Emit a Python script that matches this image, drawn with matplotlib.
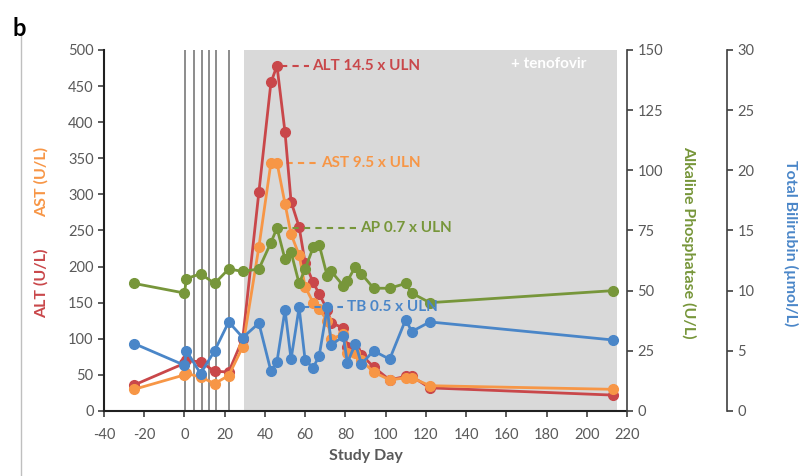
import numpy as np
import matplotlib
matplotlib.use("Agg")
import matplotlib.pyplot as plt

plt.rcParams['font.family'] = ['Lato', 'DejaVu Sans']
plt.rcParams['axes.unicode_minus'] = False

# study days of each visit
days = [-25, 0, 1, 8, 15, 22, 29, 37, 43, 46, 50, 53, 57, 60, 64, 67, 71, 73,
        79, 81, 85, 88, 94, 102, 110, 113, 122, 213]
alt = [36, 66, 70, 68, 55, 54, 100, 303, 455, 478, 386, 290, 255, 205, 178, 162,
       140, 122, 115, 88, 85, 78, 61, 43, 48, 48, 32, 22]
ast = [30, 50, 52, 47, 38, 49, 89, 227, 344, 344, 287, 245, 216, 172, 150, 141,
       125, 100, 106, 80, 80, 70, 54, 43, 46, 46, 35, 30]
ap = [53, 49, 55, 57, 53, 59, 58, 59, 70, 76, 63, 66, 53, 59, 68, 69,
      56, 58, 52, 54, 60, 57, 51, 51, 53, 49, 45, 50]
tb = [5.6, 3.8, 5.0, 3.1, 5.0, 7.4, 6.1, 7.3, 3.3, 4.1, 8.4, 4.3, 8.6, 4.2, 3.6, 4.6,
      8.6, 5.5, 6.2, 4.0, 5.6, 3.9, 5.0, 4.3, 7.6, 6.6, 7.4, 5.9]

dose_days = [0.5, 4.5, 8.5, 12, 15.5, 22]
tenofovir_start, tenofovir_end = 29.4, 215

red = '#C9474A'
orange = '#F79646'
green = '#77963A'
blue = '#4A86C8'
grey = '#595959'

fig = plt.figure(figsize=(8.03, 4.76), dpi=100)
ax = fig.add_axes([0.1295, 0.1366, 0.6513, 0.7584])
ax2 = ax.twinx()
ax3 = ax.twinx()
ax3.spines['right'].set_position(('axes', 1.191))

# tenofovir period and dosing days
ax.axvspan(tenofovir_start, tenofovir_end, color='#D9D9D9', lw=0, zorder=0)
for d in dose_days:
    ax.axvline(d, color='#8C8C8C', lw=1.4, zorder=1)

mk = dict(marker='o', ms=7, lw=2.0)
ax.plot(days, alt, color=red, zorder=3, **mk)
ax.plot(days, ast, color=orange, zorder=4, **mk)
ax2.plot(days, ap, color=green, zorder=3, **mk)
ax3.plot(days, tb, color=blue, zorder=3, **mk)

# peak labels with dashed leaders
i_alt = int(np.argmax(alt))
ax.plot([days[i_alt] + 2, 62], [alt[i_alt]] * 2, ls=(0, (3, 2.5)), color=red, lw=1.5)
ax.text(63.5, alt[i_alt], 'ALT 14.5 x ULN', color=red, fontsize=11, fontweight='bold', va='center')
i_ast = int(np.argmax(ast))
ax.plot([days[i_ast] + 2, 66], [ast[i_ast]] * 2, ls=(0, (3, 2.5)), color=orange, lw=1.5)
ax.text(68, ast[i_ast], 'AST 9.5 x ULN', color=orange, fontsize=11, fontweight='bold', va='center')
i_ap = int(np.argmax(ap))
ax2.plot([days[i_ap] + 2, 85.5], [ap[i_ap]] * 2, ls=(0, (3, 2.5)), color=green, lw=1.5)
ax2.text(87.5, ap[i_ap], 'AP 0.7 x ULN', color=green, fontsize=11, fontweight='bold', va='center')
i_tb = int(np.argmax(tb))
ax3.plot([days[i_tb] + 2, 79], [tb[i_tb]] * 2, ls=(0, (3, 2.5)), color=blue, lw=1.5)
ax3.text(81, tb[i_tb], 'TB 0.5 x ULN', color=blue, fontsize=11, fontweight='bold', va='center')

ax.text(200, 480, '+ tenofovir', color='white', fontsize=11, fontweight='bold', ha='right', va='center')

# axes
ax.set_xlim(-40, 220)
ax.set_ylim(0, 500)
ax.set_xticks(np.arange(-40, 221, 20))
ax.set_yticks(np.arange(0, 501, 50))
ax2.set_ylim(0, 150)
ax2.set_yticks(np.arange(0, 151, 25))
ax3.set_ylim(0, 30)
ax3.set_yticks(np.arange(0, 31, 5))

for a in (ax, ax2, ax3):
    a.tick_params(direction='out', length=4, width=1.2, colors='#404040',
                  labelcolor=grey, labelsize=10.5)
    a.spines['top'].set_visible(False)
ax.tick_params(axis='x', pad=8)
ax.spines['right'].set_visible(False)
ax.spines['left'].set_linewidth(1.5)
ax.spines['bottom'].set_linewidth(1.5)
ax.spines['left'].set_color('#202020')
ax.spines['bottom'].set_color('#202020')
for a in (ax2, ax3):
    a.spines['left'].set_visible(False)
    a.spines['bottom'].set_visible(False)
    a.spines['right'].set_color('#404040')
    a.spines['right'].set_linewidth(1.2)

ax.set_xlabel('Study Day', color=grey, fontsize=11.5, fontweight='bold', labelpad=5)
fig.text(0.052, 0.405, 'ALT (U/L)', color=red, fontsize=11.5, fontweight='bold',
         rotation=90, ha='center', va='center')
fig.text(0.052, 0.618, 'AST (U/L)', color=orange, fontsize=11.5, fontweight='bold',
         rotation=90, ha='center', va='center')
fig.text(0.857, 0.49, 'Alkaline Phosphatase (U/L)', color=green, fontsize=11.5,
         fontweight='bold', rotation=270, ha='center', va='center')
fig.text(0.985, 0.49, 'Total Bilirubin (\u00b5mol/L)', color=blue, fontsize=11.5,
         fontweight='bold', rotation=270, ha='center', va='center')

# panel letter and divider
fig.text(0.015, 0.94, 'b', fontsize=17, fontweight='bold', color='black', va='center')
fig.add_artist(plt.Line2D([0.026, 0.026], [0.0, 0.93], color='#BFBFBF', lw=1))

fig.savefig('out.png', dpi=100)
